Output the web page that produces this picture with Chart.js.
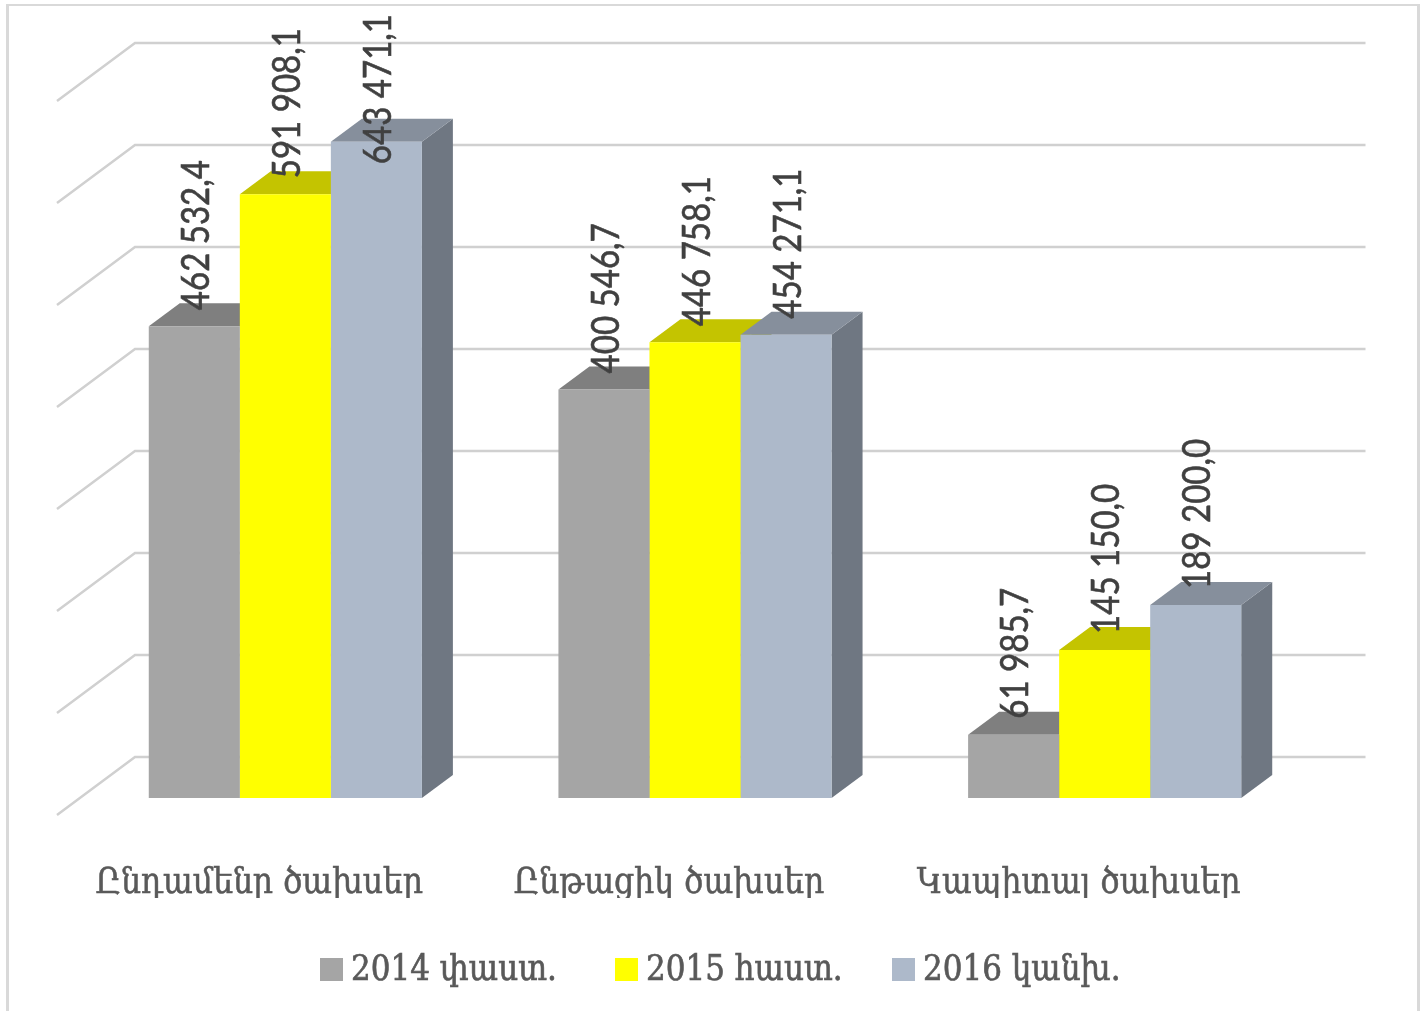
<!DOCTYPE html>
<html>
<head>
<meta charset="utf-8">
<script src="https://cdn.jsdelivr.net/npm/chart.js@4/dist/chart.umd.min.js"></script>
<style>
  html, body { margin: 0; padding: 0; background: #fff; }
  canvas { display: block; }
</style>
</head>
<body>
<canvas id="chart" width="1424" height="1011"></canvas>
<script>
const categories = ['Ընդամենը ծախսեր', 'Ընթացիկ ծախսեր', 'Կապիտալ ծախսեր'];
const seriesNames = ['2014 փաստ.', '2015 հաստ.', '2016 կանխ.'];
const values2014 = [462532.4, 400546.7, 61985.7];
const values2015 = [591908.1, 446758.1, 145150.0];
const values2016 = [643471.1, 454271.1, 189200.0];

const frontColors = ['#A5A5A5', '#FFFF00', '#ADB9CA'];
const topColors = ['#7F7F7F', '#C4C400', '#868F9C'];
const sideColors = ['#6F6F6F', '#A8A800', '#6F7782'];

const SERIF = '"DejaVu Serif Condensed", "DejaVu Serif", serif';
const LABEL_SQUEEZE = 0.87;
const LEGEND_X = [320, 615, 892];

function fmt(v) {
    const [a, b] = v.toFixed(1).split('.');
    return a.replace(/\B(?=(\d{3})+$)/g, ' ') + ',' + b;
}

function quad(ctx, pts, color) {
    ctx.fillStyle = color;
    ctx.beginPath();
    pts.forEach((p, i) => i ? ctx.lineTo(p[0], p[1]) : ctx.moveTo(p[0], p[1]));
    ctx.closePath();
    ctx.fill();
}

const depth3d = {
    id: 'depth3d',
    beforeDatasetsDraw(chart) {
        const ctx = chart.ctx;
        const yScale = chart.scales.y;
        const area = chart.chartArea;

        // frame of the picture, there is none along the bottom
        ctx.save();
        ctx.fillStyle = '#D9D9D9';
        ctx.fillRect(6, 4, 1414, 2);
        ctx.fillRect(6, 4, 3, 1007);
        ctx.fillRect(1417, 4, 3, 1007);
        ctx.restore();

        // back wall lines and the diagonals on the left
        ctx.save();
        ctx.strokeStyle = '#D0D0D0';
        ctx.lineWidth = 2.5;
        yScale.ticks.forEach(t => {
            const y = yScale.getPixelForValue(t.value) - 41;
            ctx.beginPath();
            ctx.moveTo(57, y + 58);
            ctx.lineTo(135, y);
            ctx.lineTo(area.right + 56, y);
            ctx.stroke();
        });
        ctx.restore();

        // tops and sides, front faces come from chart.js on top of them
        chart.data.datasets.forEach((ds, i) => {
            chart.getDatasetMeta(i).data.forEach(bar => {
                const l = bar.x - bar.width / 2, r = bar.x + bar.width / 2;
                const t = bar.y, b = bar.base;
                quad(ctx, [[r, t], [r + 31, t - 23], [r + 31, b - 23], [r, b]], sideColors[i]);
                quad(ctx, [[l, t], [l + 31, t - 23], [r + 31, t - 23], [r, t]], topColors[i]);
            });
        });
    },
    afterDatasetsDraw(chart) {
        const ctx = chart.ctx;
        ctx.save();
        ctx.font = '38px Lato';
        ctx.fillStyle = '#404040';
        ctx.strokeStyle = '#404040';
        ctx.lineWidth = 0.6;
        ctx.textAlign = 'left';
        ctx.textBaseline = 'middle';
        chart.data.datasets.forEach((ds, i) => {
            chart.getDatasetMeta(i).data.forEach((bar, j) => {
                const s = fmt(ds.data[j]);
                const w = ctx.measureText(s).width * LABEL_SQUEEZE;
                ctx.save();
                ctx.translate(bar.x + 2.5, Math.max(bar.y - 16, w + 14));
                ctx.rotate(-Math.PI / 2);
                ctx.scale(LABEL_SQUEEZE, 1);
                ctx.fillText(s, 0, 0);
                ctx.strokeText(s, 0, 0);
                ctx.restore();
            });
        });
        ctx.restore();

        // legend row
        ctx.save();
        ctx.font = '34.5px ' + SERIF;
        ctx.textBaseline = 'alphabetic';
        ctx.strokeStyle = '#595959';
        ctx.lineWidth = 0.6;
        chart.data.datasets.forEach((ds, i) => {
            const x = LEGEND_X[i];
            ctx.fillStyle = frontColors[i];
            ctx.fillRect(x, 958, 23, 23);
            ctx.fillStyle = '#595959';
            ctx.fillText(ds.label, x + 31, 980);
            ctx.strokeText(ds.label, x + 31, 980);
        });
        ctx.restore();
    }
};

new Chart(document.getElementById('chart'), {
    type: 'bar',
    data: {
        labels: categories,
        datasets: [
            { label: seriesNames[0], data: values2014, backgroundColor: frontColors[0] },
            { label: seriesNames[1], data: values2015, backgroundColor: frontColors[1] },
            { label: seriesNames[2], data: values2016, backgroundColor: frontColors[2] }
        ]
    },
    plugins: [depth3d],
    options: {
        responsive: false,
        animation: false,
        layout: { padding: { left: 80.5, right: 114.5, top: 84, bottom: 113 } },
        datasets: { bar: { barPercentage: 1, categoryPercentage: 0.6667 } },
        plugins: {
            legend: { display: false },
            tooltip: { enabled: false }
        },
        scales: {
            x: {
                grid: { display: false },
                border: { display: false },
                afterFit(scale) { scale.height = 100; },
                ticks: {
                    padding: 57,
                    labelOffset: -26,
                    maxRotation: 0,
                    color: '#595959',
                    textStrokeColor: '#595959',
                    textStrokeWidth: 0.5,
                    font: { family: SERIF, size: 35 }
                }
            },
            y: {
                display: false,
                min: 0,
                max: 700000,
                ticks: { stepSize: 100000 }
            }
        }
    }
});
</script>
</body>
</html>
